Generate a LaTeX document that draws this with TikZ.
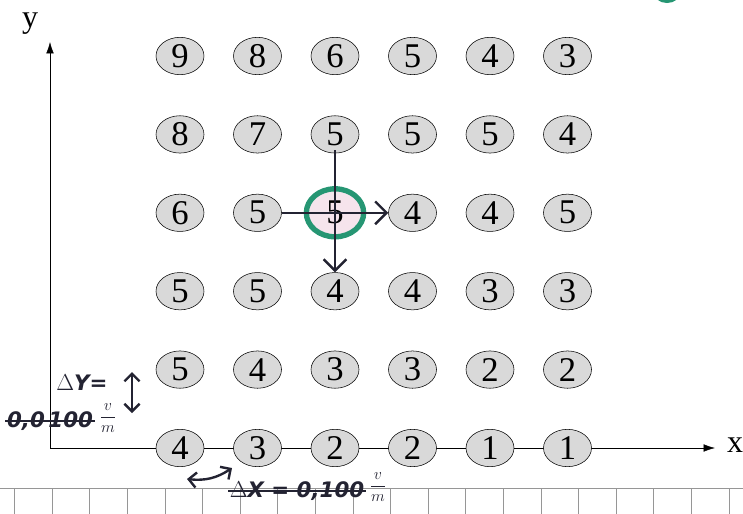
\documentclass[tikz,border=0pt]{standalone}
\usepackage{fontspec}
\setmainfont{Liberation Serif}
\newfontfamily\handfont{DejaVu Sans}
\usetikzlibrary{arrows.meta, shapes.geometric, positioning}
\definecolor{cellgray}{RGB}{217,217,217}
\definecolor{hotpink}{RGB}{246,228,236}
\definecolor{ringgreen}{RGB}{38,150,115}
\definecolor{inkblack}{RGB}{35,35,50}
\definecolor{rulergray}{RGB}{150,150,150}

\begin{document}
\begin{tikzpicture}[x=0.75pt, y=-0.75pt,
        cell/.style={ellipse, draw, thin, fill=cellgray, minimum width=36pt, minimum height=28pt,
            inner sep=0pt, font=\fontsize{26}{26}\selectfont},
        hot/.style={cell, fill=hotpink, draw=ringgreen, line width=4pt,
            minimum width=43pt, minimum height=36pt},
        axis/.style={thin, -{Latex[length=3mm, width=2mm]}},
        axlabel/.style={anchor=base, font=\fontsize{24}{24}\selectfont},
        pen/.style={line width=1.8pt, draw=inkblack},
        hand/.style={font=\handfont\itshape\bfseries\fontsize{16}{16}\selectfont, text=inkblack, inner sep=1pt},
        unit/.style={hand, font=\handfont\itshape\bfseries\fontsize{12}{12}\selectfont}
    ]
    \useasboundingbox (0,0) rectangle (743,514);

    % ruler strip at the bottom
    \draw[rulergray] (0,488) -- (743,488);
    \foreach \k in {0,...,19}
        \draw[rulergray] ({14.4+37.6*\k},488) -- ++(0,26);

    % axes
    \coordinate (origin) at (50,448);
    \coordinate (xend) at (715,448);
    \coordinate (yend) at (50,42);
    \draw[axis] (origin) -- (xend);
    \draw[axis] (origin) -- (yend);
    \node[axlabel] (xlab) at (735,452) {x};
    \node[axlabel] (ylab) at (30,27) {y};

    % potential grid
    \foreach \vals [count=\r] in {{9,8,6,5,4,3},{8,7,5,5,5,4},{6,5,5,4,4,5},
                                  {5,5,4,4,3,3},{5,4,3,3,2,2},{4,3,2,2,1,1}}{
        \foreach \v [count=\c] in \vals {
            \ifnum\r\c=33
                \node[hot] (c\r\c) at ({180+77.5*(\c-1)},{56+78.4*(\r-1)}) {\v};
            \else
                \node[cell] (c\r\c) at ({180+77.5*(\c-1)},{56+78.4*(\r-1)}) {\v};
            \fi
        }
    }

    % hand-drawn neighbour arrows
    \draw[pen, -{Straight Barb[length=3mm]}] (c32.east) -- (c34.west);
    \draw[pen, -{Straight Barb[length=3mm]}] ([yshift=-12pt]c23.center) -- (c43.north);

    % hand notes: step in y
    \node[hand] (dy) at (82,383) {$\Delta$Y=};
    \coordinate (dytop) at (132,372);
    \coordinate (dybot) at (132,413);
    \draw[pen, {Straight Barb[length=2mm]}-{Straight Barb[length=2mm]}] (dytop) -- (dybot);
    \node[hand] (dyval) at (50,421) {0,0\,100};
    \draw[pen, line width=1.2pt] (dyval.west) -- (dyval.east);
    \node[unit] (dyunit) at (108,418) {$\displaystyle\frac{v}{m}$};

    % hand notes: step in x
    \coordinate (dxl) at (187,479);
    \coordinate (dxr) at (232,468);
    \draw[pen, {Straight Barb[length=2mm]}-{Straight Barb[length=2mm]}] (dxl) to[bend right=20] (dxr);
    \node[hand] (dxval) at (297,491) {$\Delta$X = 0,100};
    \draw[pen, line width=1.2pt] (dxval.west) -- (dxval.east);
    \node[unit] (dxunit) at (378,487) {$\displaystyle\frac{v}{m}$};

    % edge of a ring cut off at the top
    \begin{scope}
        \clip (0,0) rectangle (743,514);
        \draw[ringgreen, line width=3pt] (667,-9) ellipse [x radius=12, y radius=10];
    \end{scope}
\end{tikzpicture}
\end{document}
